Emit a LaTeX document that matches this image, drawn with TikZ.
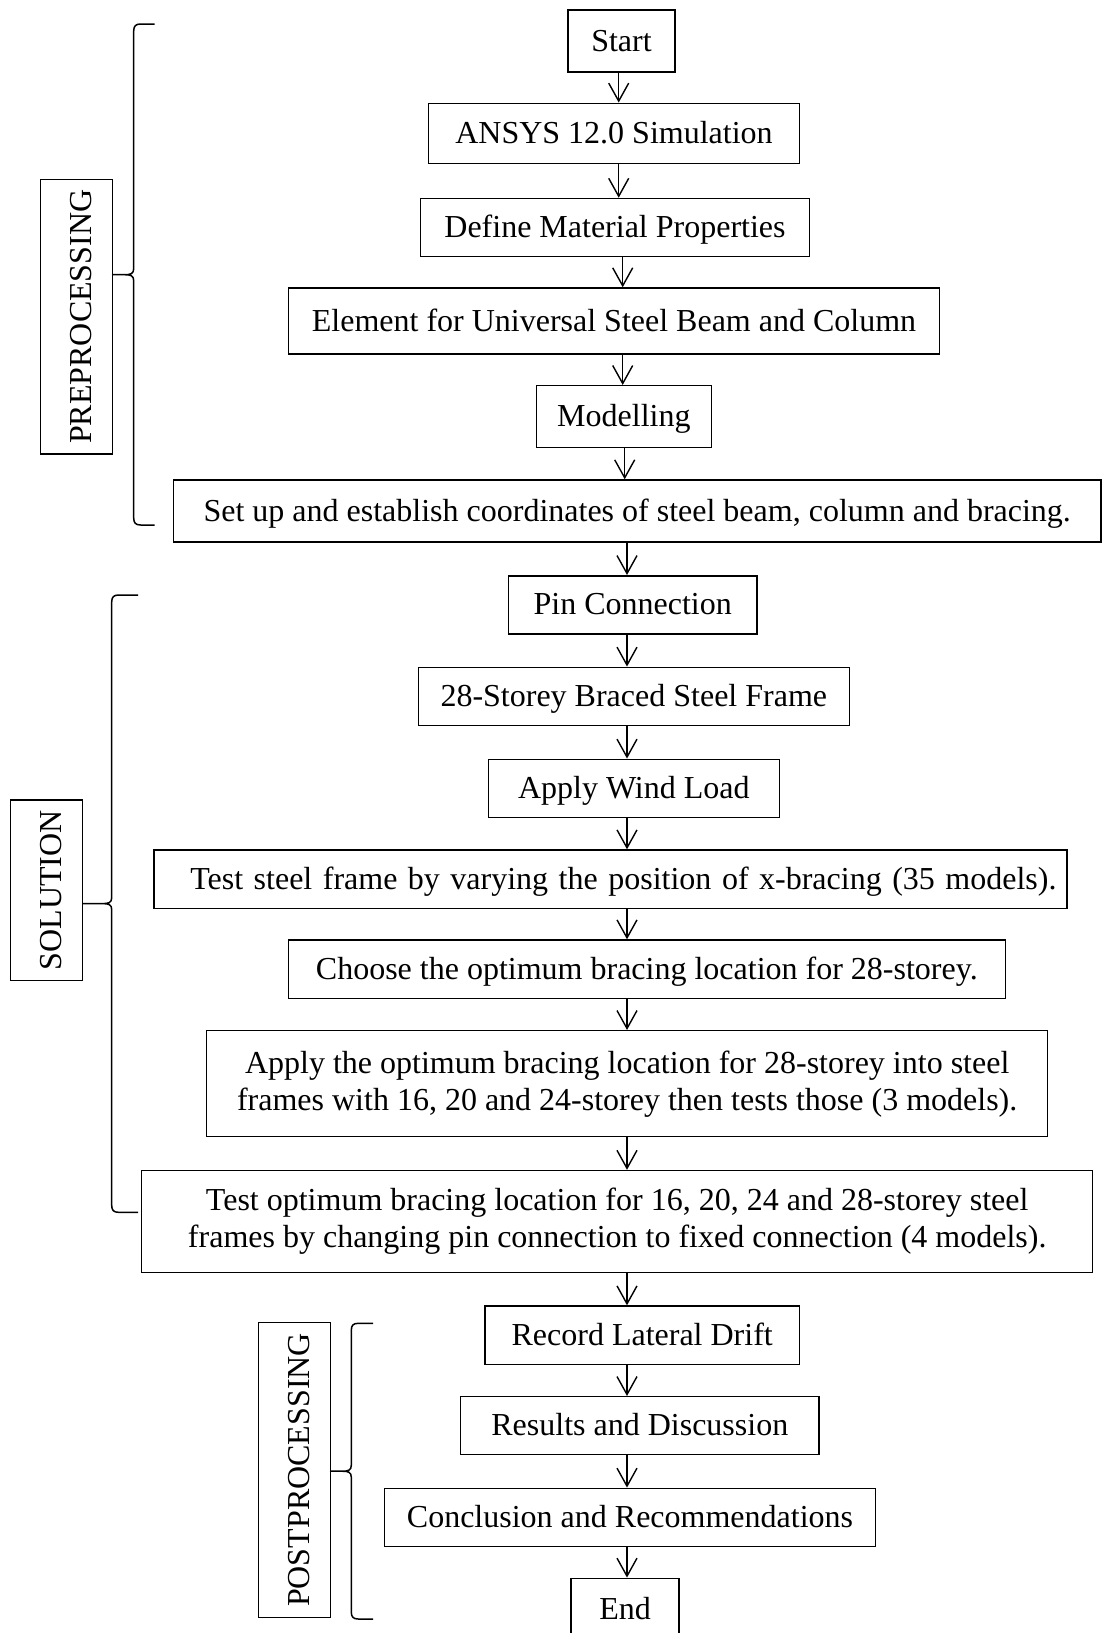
\documentclass[tikz,border=0pt]{standalone}
\usepackage{fontspec}
\setmainfont{Liberation Serif}
\usetikzlibrary{arrows.meta}
\tikzset{
  box/.style={draw, line width=1.5pt, inner sep=0pt, align=center,
    font=\fontsize{32}{37}\selectfont},
  onel/.style={box, text height=21pt, text depth=1pt},
  twol/.style={box},
  sidelab/.style={draw, line width=1.3pt, inner sep=0pt, rotate=90,
    font=\fontsize{32}{37}\selectfont, text height=30pt, text depth=1pt},
  arr/.style={line width=1.4pt, -{Straight Barb[length=18pt,width=20pt,line width=1.4pt]}},
  bracel/.style={line width=1.5pt, line join=round}
}
\newcommand\vbrace[6]{%
\draw[bracel] (#4,#2) -- (#1+7,#2) .. controls (#1+2,#2) and (#1,#2+2) .. (#1,#2+7)
 -- (#1,#6-6) .. controls (#1,#6-1) and (#1-3,#6) .. (#1-9,#6) -- (#5,#6)
 -- (#1-9,#6) .. controls (#1-3,#6) and (#1,#6+1) .. (#1,#6+6)
 -- (#1,#3-7) .. controls (#1,#3-2) and (#1+2,#3) .. (#1+7,#3) -- (#4,#3);}
\begin{document}
\begin{tikzpicture}[x=1pt,y=-1pt]
\fill[white] (0,0) rectangle (1102,1633);
\useasboundingbox (0,0) rectangle (1102,1633);

% flow boxes
\node[onel, minimum width=107pt, minimum height=62pt] (start) at (621.5,41) {Start};
\node[onel, minimum width=370.7pt, minimum height=60pt] (ansys) at (614,133.3) {ANSYS 12.0 Simulation};
\node[onel, minimum width=388.7pt, minimum height=58.2pt] (define) at (615,227.6) {Define Material Properties};
\node[onel, minimum width=650.6pt, minimum height=66pt] (element) at (614,321) {Element for Universal Steel Beam and Column};
\node[onel, minimum width=175pt, minimum height=62pt] (model) at (623.9,416.7) {Modelling};
\node[onel, minimum width=927.7pt, minimum height=62pt] (setup) at (637.2,511) {Set up and establish coordinates of steel beam, column and bracing.};
\node[onel, minimum width=248.7pt, minimum height=58.3pt] (pin) at (632.7,604.9) {Pin Connection};
\node[onel, minimum width=431pt, minimum height=58.2pt] (storey) at (633.8,696.4) {28-Storey Braced Steel Frame};
\node[onel, minimum width=291pt, minimum height=58.2pt] (wind) at (633.8,788.4) {Apply Wind Load};
\node[onel, minimum width=913.3pt, minimum height=58.3pt] (test) at (610.4,879.2) {\hspace*{26pt}\spaceskip=10.5pt Test steel frame by varying the position of x-bracing (35 models).};
\node[onel, minimum width=717pt, minimum height=58.3pt] (choose) at (646.8,969.2) {Choose the optimum bracing location for 28-storey.};
\node[twol, minimum width=841pt, minimum height=106pt] (apply) at (627.2,1083.7) {Apply the optimum bracing location for 28-storey into steel\\frames with 16, 20 and 24-storey then tests those (3 models).};
\node[twol, minimum width=951pt, minimum height=102.2pt] (testopt) at (617.2,1221.6) {Test optimum bracing location for 16, 20, 24 and 28-storey steel\\frames by changing pin connection to fixed connection (4 models).};
\node[onel, minimum width=314.3pt, minimum height=58.3pt] (record) at (642.2,1335.2) {Record Lateral Drift};
\node[onel, minimum width=358.8pt, minimum height=57.6pt] (results) at (639.8,1425.5) {Results and Discussion};
\node[onel, minimum width=490.8pt, minimum height=58.4pt] (concl) at (630,1517.5) {Conclusion and Recommendations};
\node[onel, minimum width=108pt, minimum height=62pt] (end) at (625.2,1609.3) {End};

% arrow columns
\coordinate (c1) at (618.7,0);
\coordinate (c2) at (622.7,0);
\coordinate (c3) at (624.7,0);
\coordinate (c4) at (627,0);

\draw[arr] (start.south -| c1) -- (ansys.north -| c1);
\draw[arr] (ansys.south -| c1) -- (define.north -| c1);
\draw[arr] (define.south -| c2) -- (element.north -| c2);
\draw[arr] (element.south -| c2) -- (model.north -| c2);
\draw[arr] (model.south -| c3) -- (setup.north -| c3);
\draw[arr] (setup.south -| c4) -- (pin.north -| c4);
\draw[arr] (pin.south -| c4) -- (storey.north -| c4);
\draw[arr] (storey.south -| c4) -- (wind.north -| c4);
\draw[arr] (wind.south -| c4) -- (test.north -| c4);
\draw[arr] (test.south -| c4) -- (choose.north -| c4);
\draw[arr] (choose.south -| c4) -- (apply.north -| c4);
\draw[arr] (apply.south -| c4) -- (testopt.north -| c4);
\draw[arr] (testopt.south -| c4) -- (record.north -| c4);
\draw[arr] (record.south -| c4) -- (results.north -| c4);
\draw[arr] (results.south -| c4) -- (concl.north -| c4);
\draw[arr] (concl.south -| c4) -- (end.north -| c4);

% side labels
\node[sidelab, minimum width=274.7pt, minimum height=72pt] (pre) at (76.7,316.7) {PREPROCESSING};
\node[sidelab, minimum width=180.7pt, minimum height=72pt] (sol) at (46.7,890.4) {SOLUTION};
\node[sidelab, minimum width=294.6pt, minimum height=72.4pt] (post) at (294.5,1470) {POSTPROCESSING};

% braces
\vbrace{133.7}{24}{525}{154.5}{112.7}{274.7}
\vbrace{111.7}{595}{1212.3}{138}{83}{903.6}
\vbrace{351.3}{1323.3}{1619}{373}{330.7}{1471.2}
\end{tikzpicture}
\end{document}
